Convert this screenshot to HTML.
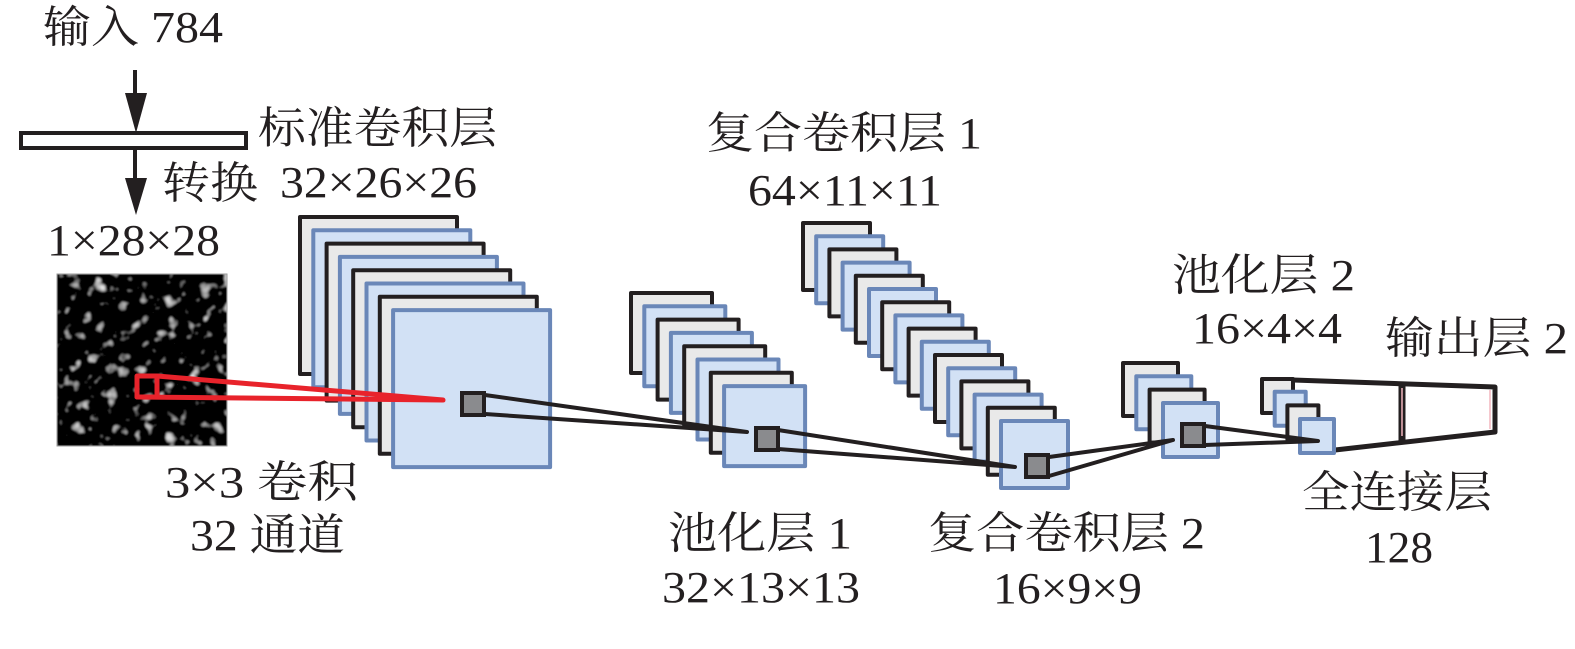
<!DOCTYPE html>
<html><head><meta charset="utf-8">
<style>
html,body{margin:0;padding:0;background:#fff;}
svg{display:block;}
text{font-family:"Liberation Serif","Times New Roman","Noto Serif CJK SC",serif;fill:#231f20;}
</style></head>
<body>
<svg width="1575" height="649" viewBox="0 0 1575 649" xmlns="http://www.w3.org/2000/svg">
<defs>
<filter id="noise" x="0" y="0" width="100%" height="100%">
<feTurbulence type="fractalNoise" baseFrequency="0.085" numOctaves="2" seed="7"/>
<feColorMatrix type="matrix" values="0.33 0.33 0.33 0 0  0.33 0.33 0.33 0 0  0.33 0.33 0.33 0 0  0 0 0 0 1"/>
<feComponentTransfer><feFuncR type="linear" slope="5" intercept="-2.75"/><feFuncG type="linear" slope="5" intercept="-2.75"/><feFuncB type="linear" slope="5" intercept="-2.75"/></feComponentTransfer>
<feGaussianBlur stdDeviation="0.8"/>
</filter>
</defs>

<line x1="135" y1="70" x2="135" y2="100" stroke="#231f20" stroke-width="4"/>
<polygon points="125,93 147,93 136,133" fill="#231f20"/>
<rect x="21" y="133" width="225" height="15" fill="#fff" stroke="#231f20" stroke-width="4"/>
<line x1="135" y1="149" x2="135" y2="185" stroke="#231f20" stroke-width="4"/>
<polygon points="125,178 147,178 136,215" fill="#231f20"/>

<rect x="57" y="274" width="170" height="172" fill="#222" filter="url(#noise)"/>
<rect x="57" y="274" width="170" height="172" fill="none" stroke="#999" stroke-width="1"/>

<g stroke-width="4" stroke-linejoin="round">
<rect x="300" y="217" width="157" height="157" fill="#e9e9e9" stroke="#231f20"/>
<rect x="313.3" y="230.3" width="157" height="157" fill="#d2e1f5" stroke="#6a87b8"/>
<rect x="326.6" y="243.6" width="157" height="157" fill="#e9e9e9" stroke="#231f20"/>
<rect x="339.9" y="256.9" width="157" height="157" fill="#d2e1f5" stroke="#6a87b8"/>
<rect x="353.2" y="270.2" width="157" height="157" fill="#e9e9e9" stroke="#231f20"/>
<rect x="366.5" y="283.5" width="157" height="157" fill="#d2e1f5" stroke="#6a87b8"/>
<rect x="379.8" y="296.8" width="157" height="157" fill="#e9e9e9" stroke="#231f20"/>
<rect x="393.1" y="310.1" width="157" height="157" fill="#d2e1f5" stroke="#6a87b8"/>

<rect x="631" y="293" width="81" height="80" fill="#e9e9e9" stroke="#231f20"/>
<rect x="644.3" y="306.3" width="81" height="80" fill="#d2e1f5" stroke="#6a87b8"/>
<rect x="657.6" y="319.6" width="81" height="80" fill="#e9e9e9" stroke="#231f20"/>
<rect x="670.9" y="332.9" width="81" height="80" fill="#d2e1f5" stroke="#6a87b8"/>
<rect x="684.2" y="346.2" width="81" height="80" fill="#e9e9e9" stroke="#231f20"/>
<rect x="697.5" y="359.5" width="81" height="80" fill="#d2e1f5" stroke="#6a87b8"/>
<rect x="710.8" y="372.8" width="81" height="80" fill="#e9e9e9" stroke="#231f20"/>
<rect x="724.1" y="386.1" width="81" height="80" fill="#d2e1f5" stroke="#6a87b8"/>

<rect x="803" y="223" width="67" height="67" fill="#e9e9e9" stroke="#231f20"/>
<rect x="816.2" y="236.2" width="67" height="67" fill="#d2e1f5" stroke="#6a87b8"/>
<rect x="829.4" y="249.4" width="67" height="67" fill="#e9e9e9" stroke="#231f20"/>
<rect x="842.6" y="262.6" width="67" height="67" fill="#d2e1f5" stroke="#6a87b8"/>
<rect x="855.8" y="275.8" width="67" height="67" fill="#e9e9e9" stroke="#231f20"/>
<rect x="869" y="289" width="67" height="67" fill="#d2e1f5" stroke="#6a87b8"/>
<rect x="882.2" y="302.2" width="67" height="67" fill="#e9e9e9" stroke="#231f20"/>
<rect x="895.4" y="315.4" width="67" height="67" fill="#d2e1f5" stroke="#6a87b8"/>
<rect x="908.6" y="328.6" width="67" height="67" fill="#e9e9e9" stroke="#231f20"/>
<rect x="921.8" y="341.8" width="67" height="67" fill="#d2e1f5" stroke="#6a87b8"/>
<rect x="935" y="355" width="67" height="67" fill="#e9e9e9" stroke="#231f20"/>
<rect x="948.2" y="368.2" width="67" height="67" fill="#d2e1f5" stroke="#6a87b8"/>
<rect x="961.4" y="381.4" width="67" height="67" fill="#e9e9e9" stroke="#231f20"/>
<rect x="974.6" y="394.6" width="67" height="67" fill="#d2e1f5" stroke="#6a87b8"/>
<rect x="987.8" y="407.8" width="67" height="67" fill="#e9e9e9" stroke="#231f20"/>
<rect x="1001" y="421" width="67" height="67" fill="#d2e1f5" stroke="#6a87b8"/>

<rect x="1123" y="363" width="55" height="53" fill="#e9e9e9" stroke="#231f20"/>
<rect x="1136.3" y="376.3" width="55" height="53" fill="#d2e1f5" stroke="#6a87b8"/>
<rect x="1149.6" y="389.6" width="55" height="53" fill="#e9e9e9" stroke="#231f20"/>
<rect x="1163" y="403" width="55" height="54" fill="#d2e1f5" stroke="#6a87b8"/>

<polyline points="1293,380 1495,387 1495,432 1335,450" fill="#fff" stroke="#231f20" stroke-width="5"/>
<line x1="1402" y1="383" x2="1402" y2="441" stroke="#231f20" stroke-width="7"/>
<line x1="1402" y1="388" x2="1402" y2="436" stroke="#f3b5bd" stroke-width="1.5"/>
<line x1="1490" y1="390" x2="1490" y2="429" stroke="#f3b5bd" stroke-width="1.5"/>

<rect x="1262" y="379" width="31" height="34" fill="#e9e9e9" stroke="#231f20"/>
<rect x="1274.7" y="391.7" width="31" height="34" fill="#d2e1f5" stroke="#6a87b8"/>
<rect x="1287.4" y="405.4" width="31" height="34" fill="#e9e9e9" stroke="#231f20"/>
<rect x="1300" y="419" width="34" height="34" fill="#d2e1f5" stroke="#6a87b8"/>
</g>

<g stroke="#e8232b" stroke-width="5" fill="none" stroke-linecap="round" stroke-linejoin="round">
<rect x="137" y="376" width="20" height="21"/>
<polyline points="157,376 443,400 137,397"/>
</g>

<g stroke="#231f20" stroke-width="4" fill="none" stroke-linecap="round" stroke-linejoin="round">
<polyline points="485,395 747,432 485,414"/>
<polyline points="778,430 1015,467 778,449"/>
<polyline points="1049,457 1173,440 1049,476"/>
<polyline points="1205,426 1318,441 1205,445"/>
</g>
<g stroke="#231f20" stroke-width="4" fill="#8a8b8e">
<rect x="462" y="393" width="22" height="22"/>
<rect x="756" y="428" width="22" height="22"/>
<rect x="1026" y="455" width="22" height="22"/>
<rect x="1182" y="424" width="22" height="22"/>
</g>

<g font-size="44" font-family="Liberation Serif, Noto Serif CJK SC, serif">
<text x="43" y="42" textLength="180" lengthAdjust="spacingAndGlyphs">输入 784</text>
<text x="258" y="143" textLength="239" lengthAdjust="spacingAndGlyphs">标准卷积层</text>
<text x="162" y="198" textLength="96" lengthAdjust="spacingAndGlyphs">转换</text>
<text x="280" y="197" textLength="197" lengthAdjust="spacingAndGlyphs">32×26×26</text>
<text x="47" y="255" textLength="173" lengthAdjust="spacingAndGlyphs">1×28×28</text>
<text x="706" y="148" textLength="276" lengthAdjust="spacingAndGlyphs">复合卷积层 1</text>
<text x="748" y="205" textLength="194" lengthAdjust="spacingAndGlyphs">64×11×11</text>
<text x="1172" y="290" textLength="183" lengthAdjust="spacingAndGlyphs">池化层 2</text>
<text x="1192" y="343" textLength="150" lengthAdjust="spacingAndGlyphs">16×4×4</text>
<text x="1385" y="353" textLength="183" lengthAdjust="spacingAndGlyphs">输出层 2</text>
<text x="165" y="497" textLength="193" lengthAdjust="spacingAndGlyphs">3×3 卷积</text>
<text x="190" y="550" textLength="155" lengthAdjust="spacingAndGlyphs">32 通道</text>
<text x="668" y="548" textLength="184" lengthAdjust="spacingAndGlyphs">池化层 1</text>
<text x="662" y="602" textLength="198" lengthAdjust="spacingAndGlyphs">32×13×13</text>
<text x="928" y="548" textLength="277" lengthAdjust="spacingAndGlyphs">复合卷积层 2</text>
<text x="993" y="603" textLength="149" lengthAdjust="spacingAndGlyphs">16×9×9</text>
<text x="1302" y="507" textLength="190" lengthAdjust="spacingAndGlyphs">全连接层</text>
<text x="1365" y="562" textLength="68" lengthAdjust="spacingAndGlyphs">128</text>
</g>
</svg>
</body></html>
